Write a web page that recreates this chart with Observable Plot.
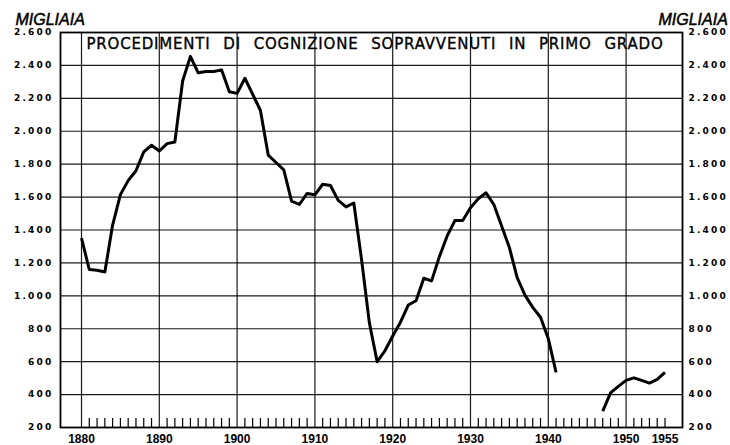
<!DOCTYPE html>
<html>
<head>
<meta charset="utf-8">
<script src="https://cdn.jsdelivr.net/npm/d3@7"></script>
<script src="https://cdn.jsdelivr.net/npm/@observablehq/plot@0.6"></script>
<style>
  html, body { margin: 0; padding: 0; background: #fff; }
  g[aria-label="y-axis tick label"] text { font-family: "DejaVu Sans", sans-serif; font-weight: bold; font-size: 9px; letter-spacing: 2.2px; }
  g[aria-label="x-axis tick label"] text { font-family: "Liberation Sans", Arial, sans-serif; font-weight: bold; font-size: 12px; }
</style>
</head>
<body>
<div id="chart"></div>
<script>
const years = [
  1880,1881,1882,1883,1884,1885,1886,1887,1888,1889,
  1890,1891,1892,1893,1894,1895,1896,1897,1898,1899,
  1900,1901,1902,1903,1904,1905,1906,1907,1908,1909,
  1910,1911,1912,1913,1914,1915,1916,1917,1918,1919,
  1920,1921,1922,1923,1924,1925,1926,1927,1928,1929,
  1930,1931,1932,1933,1934,1935,1936,1937,1938,1939,
  1940,1941,1942,1943,1944,1945,1946,1947,1948,1949,
  1950,1951,1952,1953,1954,1955
];
const procedimenti = [
  1350,1160,1155,1145,1430,1615,1700,1760,1875,1915,
  1880,1925,1935,2305,2455,2355,2363,2363,2373,2240,
  2230,2322,2225,2126,1855,1810,1765,1575,1555,1622,
  1614,1678,1670,1580,1540,1564,1220,836,600,666,
  756,840,944,970,1107,1091,1238,1364,1458,1458,
  1535,1590,1626,1555,1424,1293,1111,1004,930,870,
  740,535,null,null,null,null,null,300,410,450,
  486,502,486,470,492,535
];
const yTicks = [200,400,600,800,1000,1200,1400,1600,1800,2000,2200,2400,2600];
const decadeTicks = [1880,1890,1900,1910,1920,1930,1940,1950];
const xLabelTicks = [1880,1890,1900,1910,1920,1930,1940,1950,1955];
const minorYears = years.filter(y => y > 1880 && y % 10 !== 0);
const titleText = "PROCEDIMENTI DI COGNIZIONE SOPRAVVENUTI IN PRIMO GRADO";
const unitLabel = "MIGLIAIA";

const data = years.map((y, i) => ({year: y, value: procedimenti[i]}));
const fmt = d3.formatLocale({decimal: ",", thousands: ".", grouping: [3], currency: ["", ""]}).format(",");

const chart = Plot.plot({
  width: 730,
  height: 445,
  marginTop: 32,
  marginBottom: 18,
  marginLeft: 60,
  marginRight: 48,
  style: {background: "#fff", color: "#000", fontFamily: "DejaVu Sans, sans-serif"},
  x: {domain: [1877.3, 1957.25], label: null},
  y: {domain: [200, 2600], label: null},
  marks: [
    Plot.gridY(yTicks, {stroke: "#000", strokeOpacity: 0.9, strokeWidth: 1.2}),
    Plot.gridX(decadeTicks, {stroke: "#000", strokeOpacity: 0.9, strokeWidth: 1.2}),
    Plot.axisY(yTicks, {anchor: "left", label: null, tickSize: 0, tickPadding: 7, tickFormat: fmt}),
    Plot.axisY(yTicks, {anchor: "right", label: null, tickSize: 0, tickPadding: 6, tickFormat: fmt}),
    Plot.axisX(xLabelTicks, {anchor: "bottom", label: null, tickSize: 0, tickPadding: 7, tickFormat: d => String(d)}),
    Plot.axisX(minorYears, {anchor: "bottom", label: null, tickSize: -9, tickFormat: () => "", strokeWidth: 1.2}),
    Plot.text([titleText], {frameAnchor: "top", dx: 3.5, dy: 11.5, lineAnchor: "middle", fontSize: 15, fontFamily: "DejaVu Sans, sans-serif", fill: "#000", stroke: "#000", strokeWidth: 0.35}),
    Plot.lineY(data, {x: "year", y: "value", stroke: "#000", strokeWidth: 3, strokeLinejoin: "round", strokeLinecap: "butt"}),
    Plot.frame({stroke: "#000", strokeWidth: 1.8}),
    Plot.text([unitLabel], {frameAnchor: "top-left", textAnchor: "start", dx: -45, dy: -13, lineAnchor: "middle", fontSize: 16, fontStyle: "italic", fontFamily: "Liberation Sans, Arial, sans-serif", fill: "#000", stroke: "#000", strokeWidth: 0.5}),
    Plot.text([unitLabel], {frameAnchor: "top-right", textAnchor: "start", dx: -24, dy: -13, lineAnchor: "middle", fontSize: 16, fontStyle: "italic", fontFamily: "Liberation Sans, Arial, sans-serif", fill: "#000", stroke: "#000", strokeWidth: 0.5})
  ]
});

document.getElementById("chart").appendChild(chart);

// wide word spacing in title and a white box behind it
const svg = d3.select(chart);
svg.selectAll("text").each(function() {
  if (this.textContent === titleText) {
    this.style.letterSpacing = "0.8px";
    const w = this.getComputedTextLength();
    const spaces = titleText.split(" ").length - 1;
    this.style.wordSpacing = Math.max(0, (577 - w) / spaces) + "px";
    const bb = this.getBBox();
    const g = this.parentNode;
    const rect = document.createElementNS("http://www.w3.org/2000/svg", "rect");
    rect.setAttribute("x", bb.x - 2);
    rect.setAttribute("y", bb.y - 2);
    rect.setAttribute("width", bb.width + 4);
    rect.setAttribute("height", bb.height + 2);
    rect.setAttribute("fill", "#fff");
    g.parentNode.insertBefore(rect, g);
  }
});
</script>
</body>
</html>
